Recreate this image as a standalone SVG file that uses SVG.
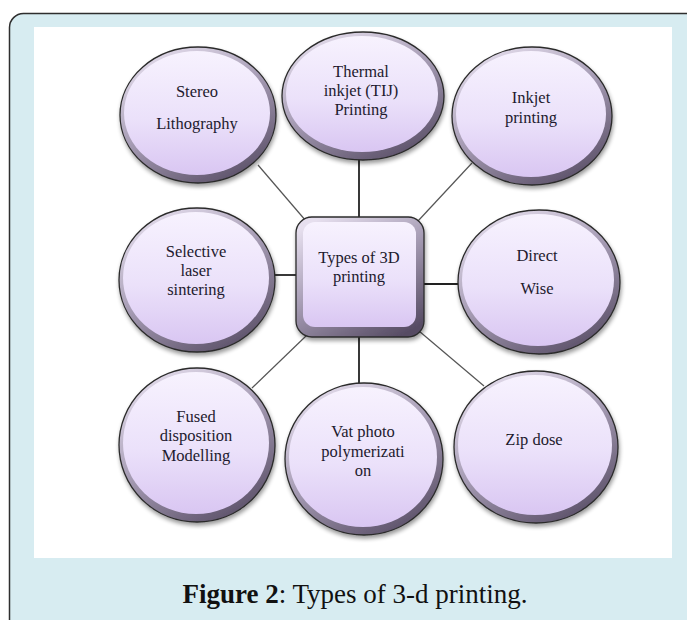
<svg xmlns="http://www.w3.org/2000/svg" width="687" height="620" viewBox="0 0 687 620">
<defs>
<linearGradient id="faceG" x1="0" y1="0" x2="0" y2="1">
<stop offset="0" stop-color="#f7f2fe"/>
<stop offset="0.55" stop-color="#ebe1fa"/>
<stop offset="1" stop-color="#d9c6f2"/>
</linearGradient>
<linearGradient id="ringG" x1="0.2" y1="0" x2="0.8" y2="1">
<stop offset="0" stop-color="#e6dfee"/>
<stop offset="0.45" stop-color="#a89eb6"/>
<stop offset="1" stop-color="#574c64"/>
</linearGradient>
<filter id="sh" x="-20%" y="-20%" width="140%" height="150%">
<feGaussianBlur in="SourceAlpha" stdDeviation="2"/>
<feOffset dx="1" dy="3" result="b"/>
<feComponentTransfer><feFuncA type="linear" slope="0.4"/></feComponentTransfer>
<feMerge><feMergeNode/><feMergeNode in="SourceGraphic"/></feMerge>
</filter>
</defs>
<style>
.ring{fill:url(#ringG);stroke:#2b2b2b;stroke-width:1.3}
.face{fill:url(#faceG)}
.lbl{font-family:"Liberation Serif",serif;font-size:16.5px;fill:#1e1a2e;text-anchor:middle}
.thin{stroke:#555;stroke-width:1.2}
.thick{stroke:#222;stroke-width:1.8}
.cap{font-family:"Liberation Serif",serif;font-size:27px;fill:#111;text-anchor:middle}
</style>
<rect x="9.5" y="13.5" width="690" height="620" rx="14" fill="#d7ecf1" stroke="#2e2e2e" stroke-width="1.5"/>
<rect x="34" y="27" width="638" height="531" fill="#ffffff"/>
<g id="connectors">
<line class="thin" x1="258" y1="165" x2="306" y2="221"/>
<line class="thick" x1="359" y1="158" x2="359" y2="218"/>
<line class="thin" x1="472" y1="163" x2="418" y2="221"/>
<line class="thick" x1="274" y1="275" x2="297" y2="275"/>
<line class="thick" x1="423" y1="284" x2="459" y2="284"/>
<line class="thin" x1="306" y1="336" x2="252" y2="388"/>
<line class="thick" x1="359" y1="335" x2="359" y2="384"/>
<line class="thin" x1="419" y1="331" x2="484" y2="386"/>
</g>
<g id="n-stereo">
<ellipse class="ring" cx="198" cy="115" rx="78" ry="68" filter="url(#sh)"/>
<ellipse class="face" cx="197" cy="113" rx="73" ry="62"/>
<text class="lbl" x="197" y="97">Stereo</text>
<text class="lbl" x="197" y="129">Lithography</text>
</g>
<g id="n-thermal">
<ellipse class="ring" cx="363" cy="96" rx="81" ry="64" filter="url(#sh)"/>
<ellipse class="face" cx="362" cy="94" rx="76" ry="58"/>
<text class="lbl" x="361" y="77">Thermal</text>
<text class="lbl" x="361" y="96">inkjet (TIJ)</text>
<text class="lbl" x="361" y="115">Printing</text>
</g>
<g id="n-inkjet">
<ellipse class="ring" cx="532" cy="116" rx="80" ry="69" filter="url(#sh)"/>
<ellipse class="face" cx="531" cy="114" rx="75" ry="63"/>
<text class="lbl" x="531" y="103">Inkjet</text>
<text class="lbl" x="531" y="123">printing</text>
</g>
<g id="n-selective">
<ellipse class="ring" cx="197" cy="280" rx="78" ry="72" filter="url(#sh)"/>
<ellipse class="face" cx="196" cy="278" rx="73" ry="66"/>
<text class="lbl" x="196" y="257">Selective</text>
<text class="lbl" x="196" y="276">laser</text>
<text class="lbl" x="196" y="295">sintering</text>
</g>
<g id="n-center">
<rect class="ring" x="296" y="217" width="128" height="120" rx="16" filter="url(#sh)"/>
<rect class="face" x="303" y="222" width="113" height="105" rx="12"/>
<text class="lbl" x="359" y="263">Types of 3D</text>
<text class="lbl" x="359" y="282">printing</text>
</g>
<g id="n-direct">
<ellipse class="ring" cx="539" cy="282" rx="81" ry="72" filter="url(#sh)"/>
<ellipse class="face" cx="538" cy="280" rx="76" ry="66"/>
<text class="lbl" x="537" y="261">Direct</text>
<text class="lbl" x="537" y="294">Wise</text>
</g>
<g id="n-fused">
<ellipse class="ring" cx="197" cy="445" rx="78" ry="77" filter="url(#sh)"/>
<ellipse class="face" cx="196" cy="443" rx="73" ry="71"/>
<text class="lbl" x="196" y="422">Fused</text>
<text class="lbl" x="196" y="441">disposition</text>
<text class="lbl" x="196" y="461">Modelling</text>
</g>
<g id="n-vat">
<ellipse class="ring" cx="364" cy="459" rx="79" ry="76" filter="url(#sh)"/>
<ellipse class="face" cx="363" cy="457" rx="74" ry="70"/>
<text class="lbl" x="363" y="437">Vat photo</text>
<text class="lbl" x="363" y="457">polymerizati</text>
<text class="lbl" x="363" y="476">on</text>
</g>
<g id="n-zip">
<ellipse class="ring" cx="536" cy="447" rx="82" ry="76" filter="url(#sh)"/>
<ellipse class="face" cx="535" cy="445" rx="77" ry="70"/>
<text class="lbl" x="534" y="445">Zip dose</text>
</g>
<text class="cap" x="355" y="603"><tspan font-weight="bold">Figure 2</tspan>: Types of 3-d printing.</text>
</svg>
